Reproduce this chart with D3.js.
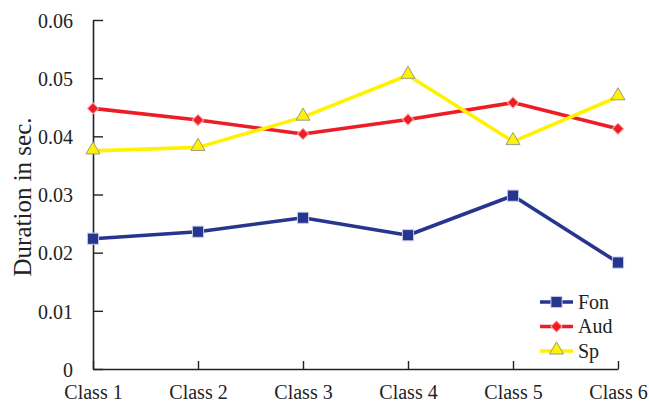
<!DOCTYPE html>
<html>
<head>
<meta charset="utf-8">
<script src="https://cdn.jsdelivr.net/npm/d3@7"></script>
<style>
  html, body { margin: 0; padding: 0; background: #fff; }
  svg { display: block; font-family: "Liberation Serif", "Times New Roman", serif; }
</style>
</head>
<body>
<svg id="chart" width="649" height="403"></svg>
<script>
// Mean duration per class for each feature set
const categories = ["Class 1", "Class 2", "Class 3", "Class 4", "Class 5", "Class 6"];
const fon = [0.0224, 0.0236, 0.0260, 0.0230, 0.0298, 0.0183];
const aud = [0.0448, 0.0428, 0.0404, 0.0429, 0.0458, 0.0413];
const sp  = [0.0375, 0.0381, 0.0433, 0.0505, 0.0391, 0.0468];
const yTicks = [0, 0.01, 0.02, 0.03, 0.04, 0.05, 0.06];
const yTitle = "Duration in sec.";

const series = [
  { name: "Fon", values: fon, color: "#26368f", marker: "square" },
  { name: "Aud", values: aud, color: "#ee1c25", marker: "diamond" },
  { name: "Sp",  values: sp,  color: "#fff200", marker: "triangle" }
];

const serif = "Liberation Serif, Times New Roman, serif";
const svg = d3.select("#chart");
const plotLeft = 93, plotRight = 618, plotTop = 20, plotBottom = 369;

const x = d3.scalePoint().domain(categories).range([plotLeft, plotRight]);
const y = d3.scaleLinear().domain([0, 0.06]).range([plotBottom, plotTop]);

// Axes: ticks point inward, labels outside
const yAxis = d3.axisLeft(y).tickValues(yTicks)
  .tickFormat(d => d === 0 ? "0" : d3.format(".2f")(d))
  .tickSizeInner(-10).tickSizeOuter(0).tickPadding(20);
const gy = svg.append("g").attr("transform", `translate(${plotLeft},0)`).call(yAxis);

const xAxis = d3.axisBottom(x).tickSizeInner(-8).tickSizeOuter(0).tickPadding(16);
const gx = svg.append("g").attr("transform", `translate(0,${plotBottom})`).call(xAxis);

[gy, gx].forEach(g => {
  g.attr("font-family", serif).attr("font-size", 20);
  g.select(".domain").attr("stroke", "#222").attr("stroke-width", 1.6);
  g.selectAll(".tick line").attr("stroke", "#222").attr("stroke-width", 1.4);
  g.selectAll(".tick text").attr("fill", "#222");
});
gx.selectAll(".tick text").attr("dy", "0.71em");
gy.selectAll(".tick text").attr("dy", "0.36em");

// Y axis title
svg.append("text")
  .attr("transform", `translate(31,197) rotate(-90)`)
  .attr("text-anchor", "middle")
  .attr("fill", "#222")
  .attr("font-family", serif)
  .attr("font-size", 25)
  .text(yTitle);

// Marker shapes
const symbolFor = {
  square: d3.symbol().type(d3.symbolSquare).size(125),
  diamond: d3.symbol().type(d3.symbolSquare).size(64),
  triangle: d3.symbol().type(d3.symbolTriangle).size(85)
};
const markerStroke = { square: "#c9cde6", diamond: "#f7b2b2", triangle: "#9a9a8a" };

function drawMarker(g, s, cx, cy) {
  const rot = s.marker === "diamond" ? " rotate(45)" : "";
  const dy = s.marker === "triangle" ? -1 : 0;
  g.append("path")
    .attr("d", symbolFor[s.marker]())
    .attr("transform", `translate(${cx},${cy + dy})${rot}`)
    .attr("fill", s.color)
    .attr("stroke", markerStroke[s.marker])
    .attr("stroke-width", 1);
}

const line = d3.line().x((d, i) => x(categories[i])).y(d => y(d));

series.forEach(s => {
  const g = svg.append("g");
  g.append("path")
    .datum(s.values)
    .attr("d", line)
    .attr("fill", "none")
    .attr("stroke", s.color)
    .attr("stroke-width", 3.6)
    .attr("stroke-linejoin", "round");
  s.values.forEach((v, i) => drawMarker(g, s, x(categories[i]), y(v)));
});

// Legend
const legend = svg.append("g").attr("transform", "translate(540,302)");
series.forEach((s, i) => {
  const row = legend.append("g").attr("transform", `translate(0,${i * 24.5})`);
  row.append("line").attr("x1", 0).attr("x2", 33).attr("y1", 0).attr("y2", 0)
    .attr("stroke", s.color).attr("stroke-width", 3.6);
  drawMarker(row, s, 16.5, 0);
  row.append("text").attr("x", 38).attr("y", 0).attr("dy", "0.33em")
    .attr("fill", "#222").attr("font-family", serif).attr("font-size", 20).text(s.name);
});
</script>
</body>
</html>
